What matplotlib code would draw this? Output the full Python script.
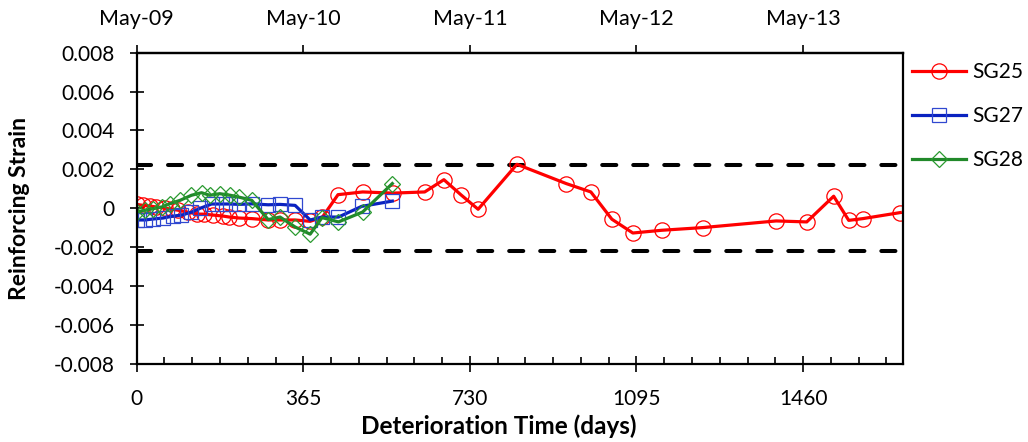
import matplotlib
matplotlib.use("Agg")
import matplotlib.pyplot as plt
from matplotlib.ticker import FixedLocator, MultipleLocator, FuncFormatter

plt.rcParams['font.family'] = ['Lato', 'DejaVu Sans']

# SG25 (red circles)
sg25_days = [0, 14, 28, 42, 63, 77, 91, 112, 133, 147, 168, 189, 203, 224, 252, 288, 314,
             347, 380, 407, 441, 495, 562, 631, 673, 710, 748, 833, 941, 995, 1041, 1087,
             1150, 1241, 1401, 1468, 1527, 1560, 1591, 1673]
sg25_strain = [0.0002, 0.00015, 0.00012, 0.00007, 0.0, -0.00005, -0.0001, -0.0002, -0.0003,
               -0.0003, -0.00035, -0.0004, -0.00045, -0.0005, -0.00053, -0.0006, -0.0006,
               -0.0006, -0.00067, -0.00045, 0.0007, 0.00084, 0.00078, 0.00084, 0.00147,
               0.0007, -0.00005, 0.00226, 0.00127, 0.00084, -0.00056, -0.00127, -0.00113,
               -0.00099, -0.00065, -0.0007, 0.00062, -0.00062, -0.00053, -0.00022]

# SG27 (blue squares)
sg27_days = [0, 18, 36, 58, 80, 98, 120, 139, 164, 186, 205, 225, 252, 288, 314, 347, 380,
             406, 442, 493, 560]
sg27_strain = [-0.0006, -0.0006, -0.00055, -0.0005, -0.0004, -0.00035, -0.0002, 0.0,
               0.00022, 0.00022, 0.00022, 0.0002, 0.00023, 0.00018, 0.0002, 0.00015,
               -0.0006, -0.00045, -0.00045, 0.0001, 0.00037]

# SG28 (green diamonds)
sg28_days = [0, 18, 36, 55, 73, 95, 120, 142, 160, 182, 205, 223, 252, 288, 314, 347, 380,
             406, 442, 495, 560]
sg28_strain = [-0.00019, -0.0001, -0.00002, 0.00007, 0.00024, 0.00041, 0.00067, 0.0008,
               0.00067, 0.00075, 0.00067, 0.00058, 0.00041, -0.00058, -0.00045, -0.00096,
               -0.00133, -0.00048, -0.0007, -0.00019, 0.00127]

limit = 0.0022
day_ticks = [0, 365, 730, 1095, 1460]
date_labels = ['May-09', 'May-10', 'May-11', 'May-12', 'May-13']

fig = plt.figure(figsize=(10.28, 4.42), dpi=100)
ax = fig.add_axes([0.133, 0.1765, 0.745, 0.7045])

dash = dict(color='black', lw=2.9, dash_capstyle='round')
ax.axhline(limit, dashes=(3.5, 4.2), **dash)
ax.axhline(-limit, dashes=(3.5, 4.2), **dash)

ax.plot(sg25_days, sg25_strain, color='#ff0000', lw=2.3, marker='o', ms=11, mfc='none',
        mec='#ff0000', mew=0.9, label='SG25')
ax.plot(sg27_days, sg27_strain, color='#0a22c0', lw=2.3, marker='s', ms=10, mfc='none',
        mec='#3048d0', mew=0.9, label='SG27')
ax.plot(sg28_days, sg28_strain, color='#21892a', lw=2.3, marker='D', ms=8, mfc='none',
        mec='#2a9a30', mew=0.9, label='SG28')

ax.set_xlim(0, 1678)
ax.set_ylim(-0.008, 0.008)
ax.xaxis.set_major_locator(FixedLocator(day_ticks))
ax.xaxis.set_minor_locator(MultipleLocator(365 / 6))
ax.yaxis.set_major_locator(MultipleLocator(0.002))
ax.yaxis.set_major_formatter(FuncFormatter(lambda v, p: '0' if abs(v) < 1e-9 else f'{v:.3f}'))

ax.tick_params(axis='x', which='major', direction='inout', length=12, width=1.2,
               labelsize=15, pad=12)
ax.tick_params(axis='x', which='minor', direction='in', length=5, width=1.2)
ax.tick_params(axis='y', direction='inout', length=10, width=1.2, labelsize=15, pad=11)
for s in ax.spines.values():
    s.set_linewidth(1.6)

top = ax.secondary_xaxis('top')
top.set_xticks(day_ticks)
top.set_xticklabels(date_labels)
top.tick_params(direction='out', length=6, width=1.2, labelsize=15.5, pad=11)
top.spines['top'].set_linewidth(1.6)

ax.set_xlabel('Deterioration Time (days)', fontsize=17.5, fontweight='bold', va='center')
ax.xaxis.set_label_coords(0.473, -0.2)
ax.set_ylabel('Reinforcing Strain', fontsize=16.5, fontweight='bold', va='center')
ax.yaxis.set_label_coords(-0.153, 0.498)

ax.legend(loc='upper left', bbox_to_anchor=(0.887, 0.86), bbox_transform=fig.transFigure,
          frameon=False, fontsize=15, handlelength=2.6, handletextpad=0.3,
          labelspacing=1.15, borderpad=0, borderaxespad=0)

fig.savefig('out.png', dpi=100)
